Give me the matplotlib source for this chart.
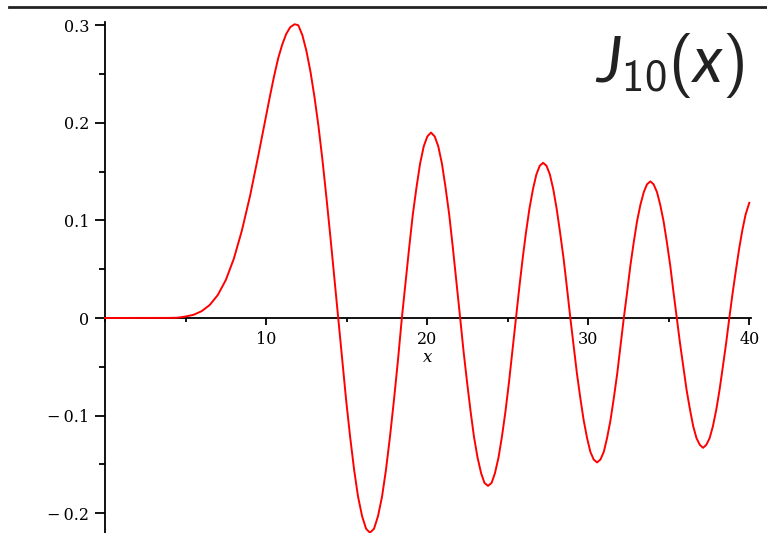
import matplotlib
matplotlib.use("Agg")
import matplotlib.pyplot as plt
from matplotlib.ticker import MultipleLocator, FuncFormatter

# J_10(x), values
x_vals = [0, 1, 2, 3, 4, 4.5, 5, 5.5, 6, 6.5, 7, 7.5, 8, 8.5, 9, 9.5, 9.75, 10, 10.25,
          10.5, 10.75, 11, 11.25, 11.5, 11.77, 12, 12.25, 12.5, 12.75, 13, 13.25,
          13.5, 13.75, 14, 14.25, 14.48,
          14.72, 14.97, 15.22, 15.47, 15.71, 15.96, 16.21, 16.45,
          16.70, 16.95, 17.20, 17.44, 17.69, 17.94, 18.19, 18.43,
          18.66, 18.89, 19.11, 19.34, 19.56, 19.79, 20.01, 20.24,
          20.47, 20.69, 20.92, 21.14, 21.37, 21.59, 21.82, 22.05,
          22.26, 22.48, 22.70, 22.91, 23.13, 23.35, 23.56, 23.78,
          24.00, 24.21, 24.43, 24.64, 24.86, 25.08, 25.29, 25.51,
          25.72, 25.93, 26.14, 26.35, 26.57, 26.78, 26.99, 27.20,
          27.41, 27.62, 27.83, 28.04, 28.25, 28.47, 28.68, 28.89,
          29.10, 29.30, 29.51, 29.72, 29.93, 30.13, 30.34, 30.55,
          30.76, 30.97, 31.17, 31.38, 31.59, 31.80, 32.00, 32.21,
          32.42, 32.62, 32.83, 33.03, 33.24, 33.45, 33.65, 33.86,
          34.06, 34.27, 34.47, 34.68, 34.88, 35.09, 35.29, 35.50,
          35.70, 35.91, 36.11, 36.32, 36.52, 36.72, 36.93, 37.13,
          37.33, 37.54, 37.74, 37.95, 38.15, 38.35, 38.56, 38.76,
          38.96, 39.17, 39.37, 39.57, 39.77, 39.98, 40.0]
y_vals = [0, 0, 0, 0, 0.0001, 0.0003, 0.0015, 0.0033, 0.007, 0.0133, 0.0235, 0.0389,
          0.0608, 0.0897, 0.1247, 0.165, 0.186, 0.2075, 0.228,
          0.248, 0.266, 0.280, 0.291, 0.298, 0.301, 0.300, 0.290, 0.274, 0.253, 0.227, 0.197,
          0.162, 0.123, 0.082, 0.039, 0,
          -0.043, -0.084, -0.122, -0.156, -0.183, -0.203, -0.216, -0.220,
          -0.216, -0.203, -0.183, -0.156, -0.122, -0.084, -0.043, 0,
          0.037, 0.073, 0.106, 0.134, 0.158, 0.176, 0.186, 0.190,
          0.186, 0.176, 0.158, 0.134, 0.106, 0.073, 0.037, 0,
          -0.034, -0.066, -0.096, -0.122, -0.143, -0.159, -0.169, -0.172,
          -0.169, -0.159, -0.143, -0.122, -0.096, -0.066, -0.034, 0,
          0.031, 0.061, 0.088, 0.112, 0.132, 0.147, 0.156, 0.159,
          0.156, 0.147, 0.132, 0.112, 0.088, 0.061, 0.031, 0,
          -0.029, -0.057, -0.082, -0.105, -0.123, -0.137, -0.145, -0.148,
          -0.145, -0.137, -0.123, -0.105, -0.082, -0.057, -0.029, 0,
          0.027, 0.054, 0.078, 0.099, 0.116, 0.129, 0.137, 0.140,
          0.137, 0.129, 0.116, 0.099, 0.078, 0.054, 0.027, 0,
          -0.026, -0.051, -0.074, -0.094, -0.111, -0.123, -0.130, -0.133,
          -0.130, -0.123, -0.111, -0.094, -0.074, -0.051, -0.026, 0,
          0.025, 0.049, 0.071, 0.090, 0.106, 0.117, 0.118]

x_ticks = [10, 20, 30, 40]
y_ticks = [-0.2, -0.1, 0, 0.1, 0.2, 0.3]
title = r'$J_{10}(x)$'

plt.rcParams['font.family'] = ['DejaVu Serif']
plt.rcParams['mathtext.fontset'] = 'custom'
plt.rcParams['mathtext.rm'] = 'cmss10'
plt.rcParams['mathtext.it'] = 'Lato:italic'

fig = plt.figure(figsize=(7.67, 5.33), dpi=100)
W, H = 767, 533
x0, x1 = 105, 750.9
y_top, y_bot = 22, 533
ax = fig.add_axes([x0 / W, 1 - y_bot / H, (x1 - x0) / W, (y_bot - y_top) / H])
ax.set_xlim(0, 40.1)
ax.set_ylim(-0.2203, 0.3033)

ax.plot(x_vals, y_vals, color='#ff0000', lw=1.4, clip_on=False, zorder=3)

for s in ['top', 'right']:
    ax.spines[s].set_visible(False)
ax.spines['bottom'].set_position(('data', 0))
ax.spines['left'].set_position(('data', 0))
ax.spines['left'].set_linewidth(1.3)
ax.spines['bottom'].set_linewidth(1.3)

ax.set_xticks(x_ticks)
ax.xaxis.set_minor_locator(MultipleLocator(5))
ax.set_yticks(y_ticks)
ax.yaxis.set_minor_locator(MultipleLocator(0.05))

def yfmt(v, pos):
    if abs(v) < 1e-9:
        return '0'
    s = '%.1f' % abs(v)
    return ('\u2212\u2009' + s) if v < 0 else s

ax.yaxis.set_major_formatter(FuncFormatter(yfmt))
ax.tick_params(axis='both', which='major', labelsize=11.5, width=1.3, direction='out')
ax.tick_params(axis='y', which='major', length=7.5, pad=4)
ax.tick_params(axis='y', which='minor', length=4.5, width=1.3)
ax.tick_params(axis='x', which='major', length=5, pad=4)
ax.tick_params(axis='x', which='minor', length=3, width=1.3)

ax.set_xlabel('x', fontsize=12, style='italic', labelpad=1)

fig.add_artist(plt.Line2D([9 / W, 1], [1 - 6.5 / H, 1 - 6.5 / H], color='#222222', lw=2))

fig.text(744 / W, 1 - 82 / H, title, fontsize=46, ha='right', va='baseline',
         color='#222222')

fig.savefig('out.png', dpi=100)
